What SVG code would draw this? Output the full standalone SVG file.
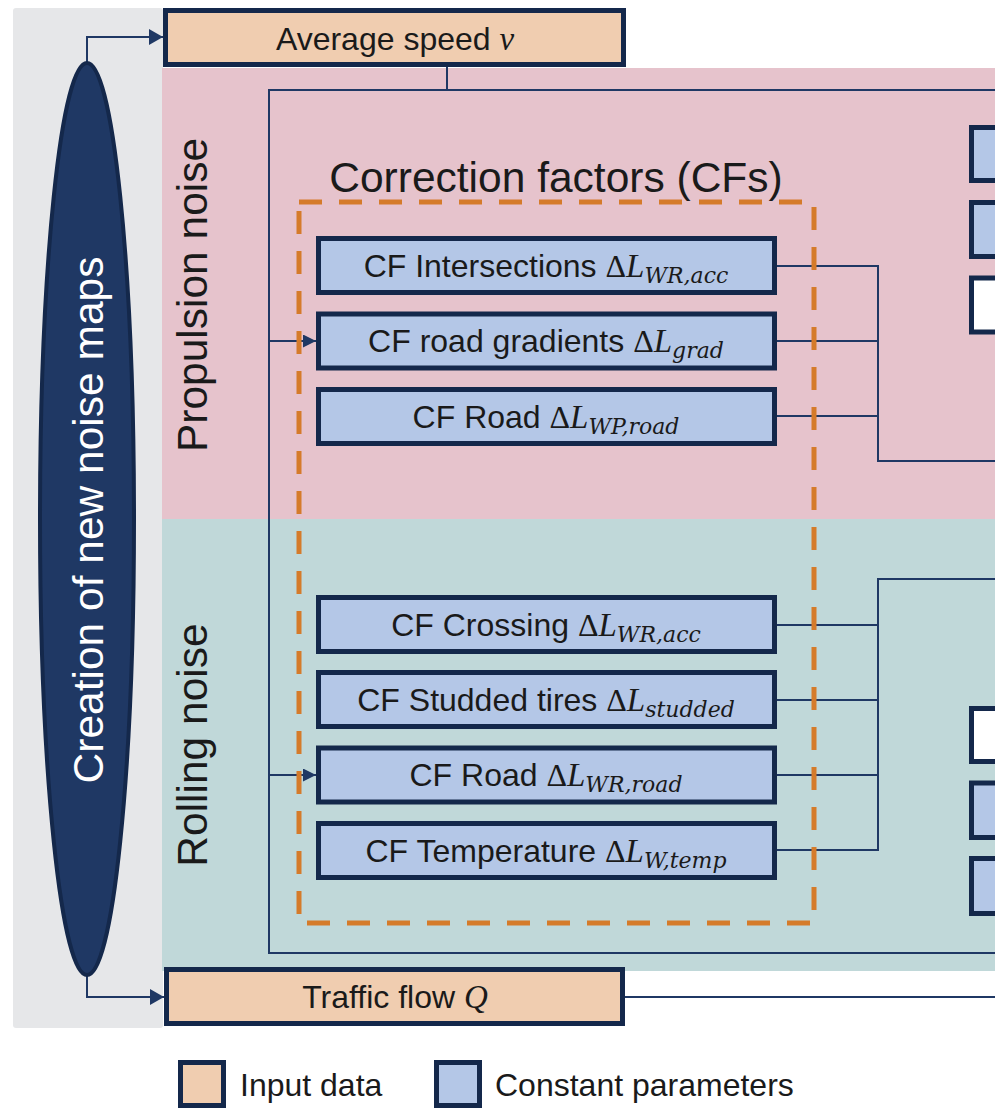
<svg xmlns="http://www.w3.org/2000/svg" width="995" height="1108" viewBox="0 0 995 1108">
<style>
.t{font-family:"Liberation Sans",Arial,sans-serif;font-size:32px;fill:#1a1a1a}
.big{font-family:"Liberation Sans",Arial,sans-serif;font-size:42.5px;fill:#1a1a1a}
.box{stroke:#14284b;stroke-width:5}
.in{fill:#f0cdb0}
.cp{fill:#b4c7e7}
.wh{fill:#ffffff}
.conn{fill:none;stroke:#1f3864;stroke-width:2}
.d{font-family:"Liberation Serif",serif;font-size:32px}
.m{font-family:"Liberation Serif",serif;font-style:italic;font-size:33px}
.sub{font-family:"DejaVu Serif",serif;font-style:italic;font-size:22px}
.dash{fill:none;stroke:#d57b2a;stroke-width:5;stroke-dasharray:23 17}
</style>
<defs>
<marker id="ah" viewBox="0 0 14 16" markerWidth="14" markerHeight="16" refX="14" refY="8" orient="auto" markerUnits="userSpaceOnUse"><path d="M0,0 L14,8 L0,16 z" fill="#1f3864"/></marker>
<marker id="as" viewBox="0 0 13 13" markerWidth="13" markerHeight="13" refX="13" refY="6.5" orient="auto" markerUnits="userSpaceOnUse"><path d="M0,0 L13,6.5 L0,13 z" fill="#1f3864"/></marker>
</defs>

<g id="backgrounds">
<rect x="13" y="8" width="150" height="1020" rx="3" fill="#e6e7e9"/>
<rect x="162" y="68" width="833" height="451" fill="#e6c3cc"/>
<rect x="162" y="519" width="833" height="452" fill="#c0d8d9"/>
</g>

<g id="section-labels">
<text class="big" transform="translate(207,295) rotate(-90)" text-anchor="middle">Propulsion noise</text>
<text class="big" transform="translate(207,745) rotate(-90)" text-anchor="middle">Rolling noise</text>
<text class="big" x="556" y="192" text-anchor="middle">Correction factors (CFs)</text>
</g>

<g id="connectors">
<path class="conn" d="M87,63 V37 H163" marker-end="url(#ah)"/>
<path class="conn" d="M87,975 V997 H164" marker-end="url(#ah)"/>
<path class="conn" d="M447,67 V90"/>
<path class="conn" d="M995,90 H269 V953 H995"/>
<path class="conn" d="M269,341 H316" marker-end="url(#as)"/>
<path class="conn" d="M269,775 H316" marker-end="url(#as)"/>
<path class="conn" d="M776,266 H878 V461 H995"/>
<path class="conn" d="M776,341 H878"/>
<path class="conn" d="M776,416 H878"/>
<path class="conn" d="M995,579 H878 V850 H776"/>
<path class="conn" d="M776,625 H878"/>
<path class="conn" d="M776,700 H878"/>
<path class="conn" d="M776,775 H878"/>
<path class="conn" d="M625,997 H995"/>
</g>

<g id="cf-group">
<rect class="dash" x="299" y="202" width="515" height="721"/>
</g>

<g id="creation-node">
<ellipse cx="87" cy="519" rx="47" ry="456" fill="#1f3864" stroke="#14284b" stroke-width="4"/>
<text transform="translate(103,520) rotate(-90)" text-anchor="middle" font-family="Liberation Sans, Arial, sans-serif" font-size="42.5" fill="#ffffff">Creation of new noise maps</text>
</g>

<g id="average-speed">
<rect class="box in" x="165.5" y="10.5" width="458" height="54"/>
<text class="t" x="395" y="50" text-anchor="middle">Average speed <tspan class="m">v</tspan></text>
</g>

<g id="traffic-flow">
<rect class="box in" x="166.5" y="969.5" width="456" height="54"/>
<text class="t" x="395" y="1008" text-anchor="middle">Traffic flow <tspan class="m">Q</tspan></text>
</g>

<g id="cf-intersections">
<rect class="box cp" x="318.5" y="238.5" width="456" height="54"/>
<text class="t" x="546" y="276.5" text-anchor="middle">CF Intersections <tspan class="d">Δ</tspan><tspan class="m">L</tspan><tspan class="sub" dy="6">WR,acc</tspan></text>
</g>
<g id="cf-road-gradients">
<rect class="box cp" x="318.5" y="314" width="456" height="54"/>
<text class="t" x="546" y="352" text-anchor="middle">CF road gradients <tspan class="d">Δ</tspan><tspan class="m">L</tspan><tspan class="sub" dy="6">grad</tspan></text>
</g>
<g id="cf-road-wp">
<rect class="box cp" x="318.5" y="389.5" width="456" height="54"/>
<text class="t" x="546" y="427.5" text-anchor="middle">CF Road <tspan class="d">Δ</tspan><tspan class="m">L</tspan><tspan class="sub" dy="6">WP,road</tspan></text>
</g>

<g id="cf-crossing">
<rect class="box cp" x="318.5" y="597.5" width="456" height="54"/>
<text class="t" x="546" y="635.5" text-anchor="middle">CF Crossing <tspan class="d">Δ</tspan><tspan class="m">L</tspan><tspan class="sub" dy="6">WR,acc</tspan></text>
</g>
<g id="cf-studded">
<rect class="box cp" x="318.5" y="672.5" width="456" height="54"/>
<text class="t" x="546" y="710.5" text-anchor="middle">CF Studded tires <tspan class="d">Δ</tspan><tspan class="m">L</tspan><tspan class="sub" dy="6">studded</tspan></text>
</g>
<g id="cf-road-wr">
<rect class="box cp" x="318.5" y="748" width="456" height="54"/>
<text class="t" x="546" y="786" text-anchor="middle">CF Road <tspan class="d">Δ</tspan><tspan class="m">L</tspan><tspan class="sub" dy="6">WR,road</tspan></text>
</g>
<g id="cf-temperature">
<rect class="box cp" x="318.5" y="823.5" width="456" height="54"/>
<text class="t" x="546" y="861.5" text-anchor="middle">CF Temperature <tspan class="d">Δ</tspan><tspan class="m">L</tspan><tspan class="sub" dy="6">W,temp</tspan></text>
</g>

<g id="right-boxes">
<rect class="box cp" x="971.5" y="127.5" width="40" height="53"/>
<rect class="box cp" x="971.5" y="202.5" width="40" height="54"/>
<rect class="box wh" x="971.5" y="278" width="40" height="54"/>
<rect class="box wh" x="971.5" y="708.5" width="40" height="53"/>
<rect class="box cp" x="971.5" y="783" width="40" height="54.5"/>
<rect class="box cp" x="971.5" y="858.5" width="40" height="55"/>
</g>

<g id="legend">
<rect class="box in" x="180.5" y="1062.5" width="43" height="43"/>
<text class="t" x="240" y="1096">Input data</text>
<rect class="box cp" x="436.5" y="1062.5" width="43" height="43"/>
<text class="t" x="495" y="1096">Constant parameters</text>
</g>
</svg>
